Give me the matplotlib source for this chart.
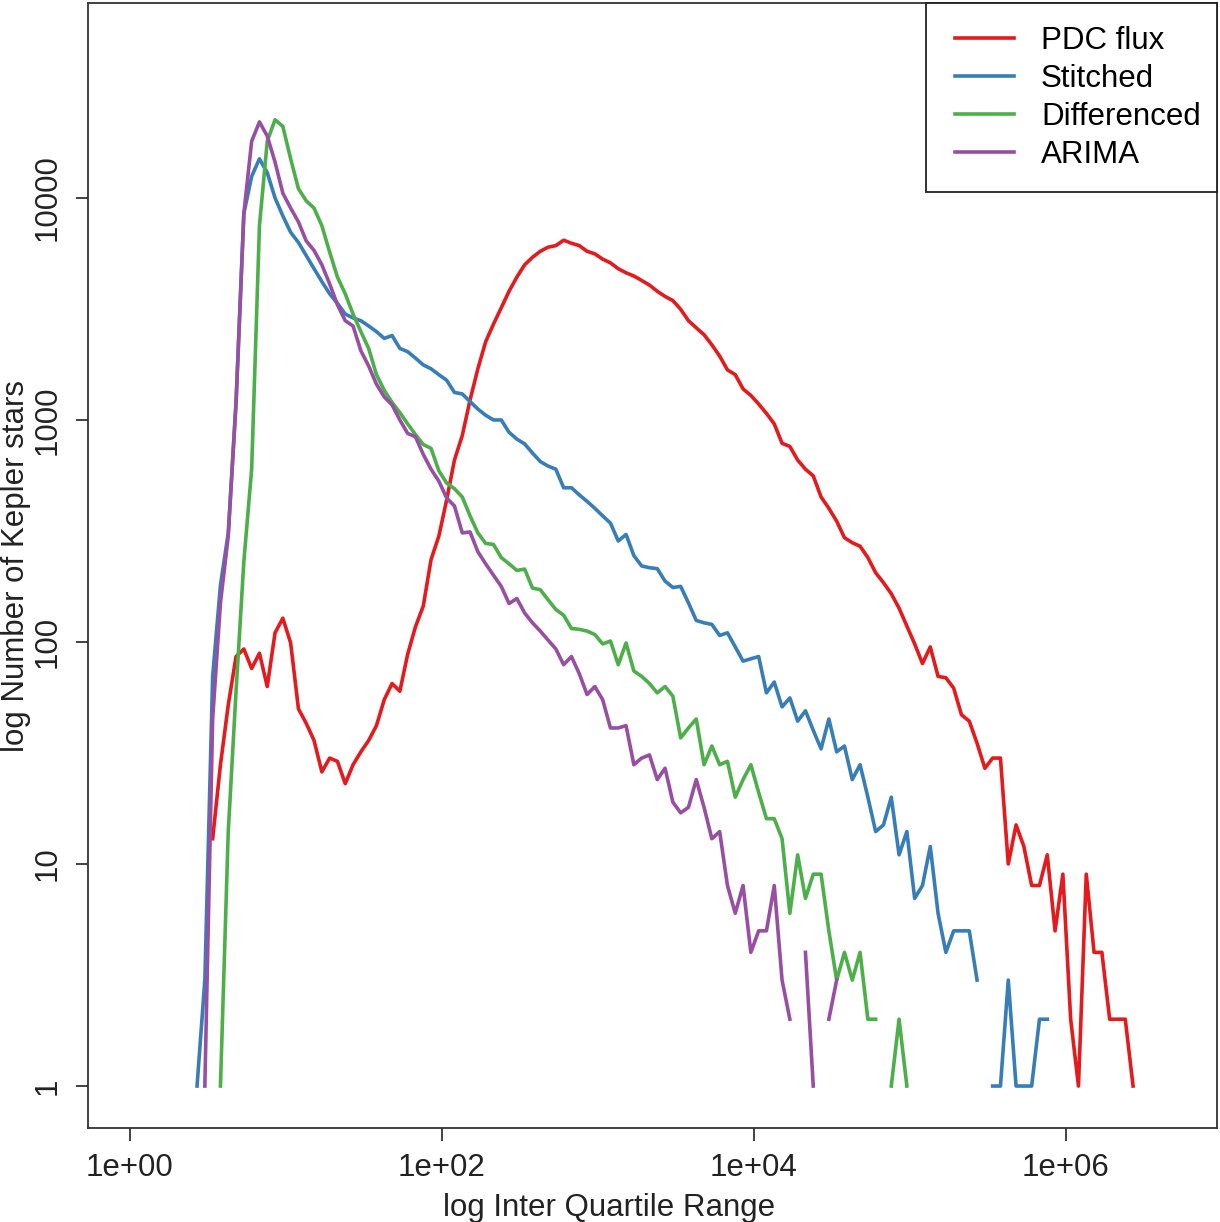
import matplotlib
matplotlib.use('Agg')
import matplotlib.pyplot as plt
from matplotlib.ticker import NullLocator
from matplotlib.patches import Rectangle
import numpy as np

plt.rcParams['font.family'] = ['Liberation Sans', 'DejaVu Sans']

# histogram bins: log10(IQR) bin centres, 0.05 dex wide
bin_log10 = np.round(0.43 + 0.05 * np.arange(121), 2)

# counts per bin (0 = empty bin, not drawn on the log axis)
pdc_flux = [0, 0, 13, 28, 52, 86, 93, 76, 89, 63,
            110, 128, 99, 50, 43, 36, 26, 30, 29, 23,
            28, 32, 36, 42, 55, 65, 60, 88, 117, 145,
            235, 300, 436, 660, 850, 1230, 1700, 2250, 2700, 3200,
            3800, 4400, 5000, 5400, 5750, 6000, 6100, 6450, 6250, 6100,
            5750, 5600, 5300, 5100, 4800, 4600, 4450, 4250, 4050, 3800,
            3600, 3450, 3150, 2800, 2600, 2420, 2180, 1940, 1680, 1600,
            1380, 1290, 1180, 1070, 960, 785, 760, 660, 600, 560,
            450, 400, 350, 295, 280, 270, 240, 205, 185, 165,
            142, 118, 98, 80, 95, 70, 69, 62, 47, 44,
            35, 27, 30, 30, 10, 15, 12, 8, 8, 11,
            5, 9, 2, 1, 9, 4, 4, 2, 2, 2, 1]

stitched = [1, 3, 70, 180, 310, 1200, 8500, 12500, 15000, 13000,
            10000, 8300, 7000, 6300, 5500, 4800, 4200, 3700, 3350, 3000,
            2880, 2800, 2650, 2500, 2330, 2400, 2100, 2030, 1900, 1770,
            1700, 1600, 1510, 1330, 1310, 1210, 1120, 1050, 1000, 1000,
            880, 820, 780, 710, 650, 620, 600, 495, 495, 460,
            430, 400, 370, 343, 285, 305, 245, 220, 216, 214,
            188, 176, 178, 150, 125, 122, 120, 107, 110, 95,
            82, 84, 86, 59, 66, 51, 56, 44, 49, 40,
            33, 45, 32, 34, 24, 28, 20, 14, 15, 20,
            11, 14, 7, 8, 12, 6, 4, 5, 5, 5,
            3, 0, 1, 1, 3, 1, 1, 1, 2, 2] + [0] * 11

differenced = [0, 0, 0, 1, 14, 60, 230, 600, 7500, 18000,
               22500, 21000, 15000, 11000, 9700, 9000, 7500, 5700, 4400, 3700,
               3000, 2500, 2100, 1600, 1360, 1200, 1080, 960, 860, 775,
               745, 590, 520, 490, 450, 370, 310, 278, 275, 240,
               225, 210, 213, 175, 172, 155, 140, 132, 115, 114,
               112, 108, 98, 101, 79, 99, 74, 70, 65, 59,
               63, 57, 37, 41, 45, 28, 34, 28, 29, 20,
               24, 28, 21, 16, 16, 13, 6, 11, 7, 9,
               9, 5, 3, 4, 3, 4, 2, 2, 0, 1,
               2, 1] + [0] * 29

arima = [0, 1, 45, 150, 300, 1200, 8500, 18000, 22000, 19000,
         14500, 10500, 9000, 7800, 6400, 5800, 5000, 4100, 3300, 2800,
         2650, 2050, 1750, 1450, 1270, 1170, 1000, 870, 840, 700,
         600, 530, 445, 410, 310, 313, 255, 225, 200, 178,
         149, 157, 135, 122, 112, 102, 93, 79, 86, 72,
         58, 63, 55, 41, 41, 42, 28, 30, 31, 24,
         27, 19, 17, 18, 24, 18, 13, 14, 8, 6,
         8, 4, 5, 5, 8, 3, 2, 0, 4, 1,
         0, 2, 3] + [0] * 38

labels = ['PDC flux', 'Stitched', 'Differenced', 'ARIMA']
colors = ['#E41A1C', '#377EB8', '#4DAF4A', '#984EA3']

iqr = 10 ** bin_log10

W, H = 1220, 1222
fig = plt.figure(figsize=(W / 100, H / 100), dpi=100)
ax = fig.add_axes([88 / W, 1 - 1128 / H, 1129 / W, 1125 / H])

for counts, col, lab in zip([pdc_flux, stitched, differenced, arima], colors, labels):
    y = np.array(counts, dtype=float)
    y[y == 0] = np.nan
    ax.plot(iqr, y, color=col, lw=2.6, label=lab, solid_joinstyle='round')

ax.set_xscale('log')
ax.set_yscale('log')
ax.set_xlim(10 ** -0.269, 10 ** 6.968)
ax.set_ylim(10 ** -0.189, 10 ** 4.878)

ax.set_xticks([1, 1e2, 1e4, 1e6])
ax.set_xticklabels(['1e+00', '1e+02', '1e+04', '1e+06'])
ax.set_yticks([1, 10, 100, 1000, 10000])
ax.set_yticklabels(['1', '10', '100', '1000', '10000'], rotation=90, va='center')
ax.xaxis.set_minor_locator(NullLocator())
ax.yaxis.set_minor_locator(NullLocator())
ax.tick_params(direction='out', length=9, width=1.2, labelsize=22.5, colors='#222222')
ax.tick_params(axis='x', pad=9)
ax.tick_params(axis='y', pad=9)

for s in ax.spines.values():
    s.set_linewidth(1.3)
    s.set_color('#333333')

ax.set_xlabel('log Inter Quartile Range', fontsize=22.5, color='#222222')
ax.set_ylabel('log Number of Kepler stars', fontsize=22.5, color='#222222')
ax.xaxis.set_label_coords((609 - 88) / 1129, -(1193 - 1128) / 1125)
ax.yaxis.set_label_coords(-(88 - 31) / 1129, 0.5)

# legend box drawn separately (R style: more room left of the keys)
box = Rectangle((926 / W, 1 - 192 / H), (1217 - 926) / W, (192 - 3) / H,
                transform=fig.transFigure, facecolor='white', edgecolor='#222222',
                lw=1.3, zorder=4, clip_on=False)
ax.add_patch(box)
leg = ax.legend(loc='upper left', bbox_to_anchor=(955 / W, 1 - 26 / H),
                bbox_transform=fig.transFigure, fontsize=22.5, frameon=False,
                borderpad=0, borderaxespad=0, handlelength=1.9,
                handletextpad=0.85, labelspacing=0.26)
leg.set_zorder(5)

fig.savefig('out.png', dpi=100)
